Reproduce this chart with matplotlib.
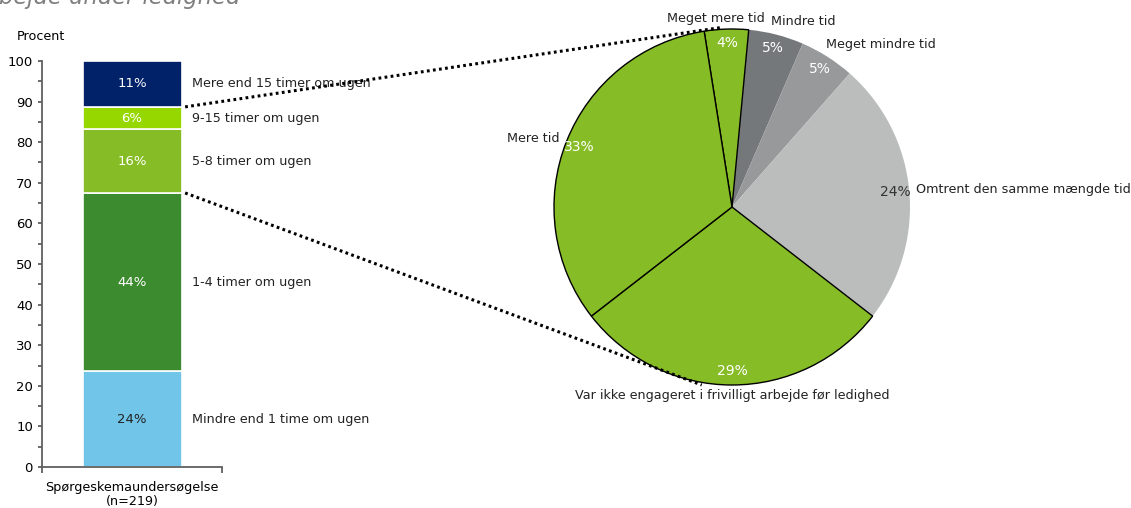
import numpy as np
import matplotlib
matplotlib.use("Agg")
import matplotlib.pyplot as plt
from matplotlib.lines import Line2D

plt.rcParams['font.family'] = ['DejaVu Sans']
plt.rcParams['font.size'] = 9.2

# stacked bar (left)
bar_labels = ["Mindre end 1 time om ugen", "1-4 timer om ugen", "5-8 timer om ugen",
              "9-15 timer om ugen", "Mere end 15 timer om ugen"]
bar_values = [23.6, 43.9, 15.7, 5.5, 11.3]
bar_text = ["24%", "44%", "16%", "6%", "11%"]
bar_colors = ["#71C5E8", "#3D8B2F", "#86BC25", "#97D700", "#012169"]
bar_textcolors = ["#222222", "white", "white", "white", "white"]
bar_category = "Spørgeskemaundersøgelse\n(n=219)"

# pie (right), clockwise from the top
pie_labels = ["Meget mere tid", "Mindre tid", "Meget mindre tid",
              "Omtrent den samme mængde tid",
              "Var ikke engageret i frivilligt arbejde før ledighed", "Mere tid"]
pie_values = [4, 5, 5, 24, 29, 33]
pie_colors = ["#86BC25", "#75787B", "#97999B", "#BBBCBC", "#86BC25", "#86BC25"]
pie_edge = [True, False, False, False, True, True]
pie_pctcolors = ["white", "white", "white", "#333333", "white", "white"]

fig = plt.figure(figsize=(11.31, 5.08), dpi=100)

fig.text(-0.001, 1 - 4 / 508, "bejde under ledighed", fontsize=16.3, style='italic',
         color="#808080", ha='left', va='baseline')

ax = fig.add_axes([42 / 1131, 41 / 508, 180 / 1131, 406 / 508])
bottoms = np.concatenate([[0], np.cumsum(bar_values)[:-1]])
ax.bar([0.5] * len(bar_values), bar_values, bottom=bottoms, width=0.55,
       color=bar_colors, edgecolor="white", linewidth=1.2)
for v, b, t, tc, lab in zip(bar_values, bottoms, bar_text, bar_textcolors, bar_labels):
    ax.text(0.5, b + v / 2, t, ha='center', va='center', color=tc, fontsize=9.5)
    ax.text(0.835, b + v / 2, lab, ha='left', va='center', color="#222222", clip_on=False)

ax.set_xlim(0, 1)
ax.set_ylim(0, 100)
ax.set_yticks(range(0, 101, 10))
ax.set_yticks(range(5, 100, 10), minor=True)
ax.set_xticks([0.5])
ax.set_xticklabels([bar_category], linespacing=1.15)
ax.set_xticks([0, 1], minor=True)
ax.tick_params(axis='x', which='major', length=0, pad=10)
ax.tick_params(axis='x', which='minor', length=4, width=1.3, color="#606060", direction='out')
ax.tick_params(axis='y', which='both', length=3, width=1.3, color="#606060", direction='out',
               labelsize=9.5)
for s in ['top', 'right']:
    ax.spines[s].set_visible(False)
for s in ['left', 'bottom']:
    ax.spines[s].set_color("#606060")
    ax.spines[s].set_linewidth(1.3)
ax.text(-0.14, 104.5, "Procent", transform=ax.transData, ha='left', va='bottom', clip_on=False)

# pie
pax = fig.add_axes([(732 - 178) / 1131, (508 - 207 - 178) / 508, 356 / 1131, 356 / 508])
wedges, texts, autotexts = pax.pie(pie_values, labels=pie_labels, colors=pie_colors,
                                   startangle=99, counterclock=False,
                                   autopct=lambda p: "%d%%" % round(p),
                                   pctdistance=0.92, labeldistance=1.04,
                                   textprops={'color': "#222222", 'fontsize': 9.2})
for w, e in zip(wedges, pie_edge):
    if e:
        w.set_edgecolor("black")
        w.set_linewidth(1.0)
        w.set_zorder(3)
    else:
        w.set_edgecolor("none")
        w.set_zorder(2)
for t, c in zip(autotexts, pie_pctcolors):
    t.set_color(c)
    t.set_fontsize(10)
    t.set_zorder(4)
texts[0].set_ha('center')
texts[0].set_x(texts[0].get_position()[0] - 0.06)
texts[0].set_y(texts[0].get_position()[1] + 0.02)
texts[1].set_x(texts[1].get_position()[0] - 0.04)
texts[1].set_y(texts[1].get_position()[1] + 0.035)
texts[2].set_x(texts[2].get_position()[0] - 0.03)
texts[2].set_y(texts[2].get_position()[1] + 0.035)
texts[4].set_ha('center')
texts[4].set_y(texts[4].get_position()[1] - 0.02)
pax.set_xlim(-1, 1)
pax.set_ylim(-1, 1)
pax.set_aspect('equal')

# dotted connectors between bar and pie (drawn in figure coordinates)
tops = np.cumsum(bar_values)
to_fig = fig.transFigure.inverted()
for ya, xyb in [(tops[3], (-0.05, 1.01)), (tops[1], (-0.17, -1.0))]:
    p0 = to_fig.transform(ax.transData.transform((0.795, ya)))
    p1 = to_fig.transform(pax.transData.transform(xyb))
    fig.add_artist(Line2D([p0[0], p1[0]], [p0[1], p1[1]], transform=fig.transFigure,
                          color="black", linewidth=2.2, linestyle=(0, (0.9, 1.1)),
                          zorder=10))

fig.savefig("out.png", dpi=100)
